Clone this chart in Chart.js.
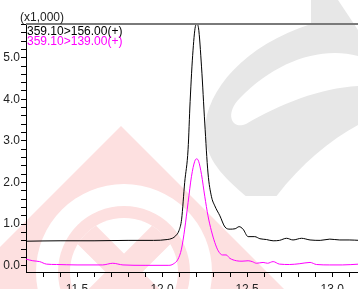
<!DOCTYPE html>
<html><head><meta charset="utf-8">
<script src="https://cdn.jsdelivr.net/npm/chart.js@4"></script>
<style>html,body{margin:0;padding:0;overflow:hidden;background:#fff}#wrap{width:358px;height:300px}</style>
</head><body><div id="wrap"><canvas id="c" width="358" height="300"></canvas></div>
<script>
// ---- data ----
const blackTimes  = [11.20,11.40,11.60,11.80,11.95,12.03,12.06,12.08,12.10,12.115,12.133,12.153,12.165,12.182,12.198,12.205,12.214,12.232,12.251,12.27,12.29,12.31,12.34,12.37,12.40,12.43,12.453,12.476,12.506,12.545,12.575,12.614,12.653,12.69,12.732,12.77,12.82,12.87,12.93,12.986,13.045,13.10,13.16];
const blackValues = [0.59,0.60,0.60,0.61,0.61,0.63,0.66,0.72,0.85,1.12,2.00,2.80,3.95,5.18,5.78,5.80,5.72,4.78,3.43,2.23,1.67,1.44,1.20,0.93,0.88,0.89,0.94,0.88,0.70,0.70,0.65,0.63,0.60,0.61,0.66,0.62,0.66,0.62,0.61,0.64,0.62,0.62,0.61];
const pinkTimes   = [11.20,11.24,11.28,11.32,11.38,11.50,11.65,11.71,11.77,11.90,12.04,12.065,12.094,12.114,12.133,12.153,12.173,12.192,12.203,12.215,12.232,12.251,12.27,12.29,12.31,12.33,12.355,12.377,12.398,12.437,12.47,12.506,12.53,12.555,12.594,12.62,12.653,12.69,12.75,12.81,12.87,12.908,12.986,13.06,13.16];
const pinkValues  = [0.16,0.12,0.10,0.04,0.03,0.02,0.02,0.06,0.02,0.01,0.01,0.04,0.16,0.40,0.88,1.52,2.15,2.51,2.57,2.51,2.19,1.67,1.20,0.84,0.56,0.36,0.26,0.26,0.18,0.12,0.11,0.12,0.10,0.06,0.08,0.06,0.10,0.04,0.03,0.05,0.08,0.03,0.02,0.02,0.04];
const xMajorLabels = ['11.5','12.0','12.5','13.0'];
const yMajorLabels = ['0.0','1.0','2.0','3.0','4.0','5.0'];
const legendTexts  = ['359.10>156.00(+)','359.10>139.00(+)'];
const legendColors = ['#000000','#ff00ff'];
const yUnitLabel   = '(x1,000)';

const FONT = 'Arial, "Liberation Sans", sans-serif';

function poly(ctx, pts){ ctx.moveTo(pts[0][0],pts[0][1]); for(let i=1;i<pts.length;i++) ctx.lineTo(pts[i][0],pts[i][1]); ctx.closePath(); }

const watermark = {
  id:'watermark',
  beforeDraw(chart){
    const ctx = chart.ctx;
    ctx.save();
    ctx.fillStyle = '#fff';
    ctx.fillRect(0,0,chart.width,chart.height);
    // grey S (background watermark)
    ctx.save();
    ctx.beginPath(); ctx.rect(0,0,358,196); ctx.clip();
    ctx.fillStyle = '#e7e7e7';
    ctx.beginPath();
    ctx.moveTo(311,0); ctx.lineTo(338,0); ctx.lineTo(358,30); ctx.lineTo(358,125);
    ctx.bezierCurveTo(330,140, 300,165, 275,198);
    ctx.lineTo(248,198);
    ctx.bezierCurveTo(225,178, 204,160, 205,130);
    ctx.bezierCurveTo(206,90, 245,45, 311,24);
    ctx.closePath();
    ctx.fill();
    // slot (counter)
    ctx.fillStyle = '#fff';
    ctx.beginPath();
    ctx.moveTo(358,56);
    ctx.bezierCurveTo(320,46, 275,62, 240,98);
    ctx.bezierCurveTo(224,114, 232,130, 246,124);
    ctx.bezierCurveTo(280,104, 320,88, 358,86);
    ctx.closePath();
    ctx.fill();
    ctx.restore();
    // pink diamond
    ctx.fillStyle = '#fde0e0';
    ctx.beginPath();
    poly(ctx, [[121,126],[421,426],[121,726],[-179,426]]);
    ctx.fill();
    const cx=124, cy=272;
    ctx.fillStyle = '#fff';
    ctx.beginPath();
    ctx.arc(cx,cy,88,0,Math.PI*2); ctx.arc(cx,cy,66,0,Math.PI*2,true);
    ctx.fill();
    ctx.save();
    ctx.beginPath(); ctx.arc(cx,cy,54,0,Math.PI*2); ctx.clip();
    ctx.fillStyle='#fff'; ctx.fillRect(cx-60,cy-60,120,120);
    ctx.fillStyle='#fde0e0';
    ctx.translate(cx,cy);
    ctx.rotate(Math.PI/4);
    ctx.fillRect(-70,-13,140,26);
    ctx.fillRect(-13,-70,26,140);
    ctx.restore();
    ctx.restore();
  },
  afterDraw(chart){
    const ctx = chart.ctx, a = chart.chartArea;
    ctx.save();
    ctx.strokeStyle = '#7a7a7a';
    ctx.lineWidth = 2;
    ctx.beginPath(); ctx.moveTo(a.left, a.top); ctx.lineTo(chart.width, a.top); ctx.stroke();
    ctx.font = '12px ' + FONT;
    ctx.textAlign = 'left';
    ctx.textBaseline = 'alphabetic';
    ctx.fillStyle = '#222';
    ctx.fillText(yUnitLabel, 20, 21);
    legendTexts.forEach((t,i)=>{ ctx.fillStyle = legendColors[i]; ctx.fillText(t, 27, 34.5 + i*10.5); });
    ctx.restore();
  }
};

function near(v, step){ return Math.abs(v/step - Math.round(v/step)) < 1e-6; }

new Chart(document.getElementById('c'), {
  type:'line',
  data:{ datasets:[
    { data: blackTimes.map((t,i)=>({x:t,y:blackValues[i]})), borderColor:'#000', borderWidth:1, pointRadius:0, cubicInterpolationMode:'monotone', fill:false },
    { data: pinkTimes.map((t,i)=>({x:t,y:pinkValues[i]})), borderColor:'#ff00ff', borderWidth:1, pointRadius:0, cubicInterpolationMode:'monotone', fill:false }
  ]},
  plugins:[watermark],
  options:{
    responsive:false, animation:false, devicePixelRatio:1,
    layout:{ padding:{ top:24, right:0, left:0, bottom:0 } },
    plugins:{ legend:{display:false}, tooltip:{enabled:false} },
    scales:{
      x:{ type:'linear', min:11.2, max:13.152,
        afterBuildTicks(s){ const t=[]; for(let k=112;k<=131;k++){ t.push({value:k/10}); } s.ticks=t.filter(o=>o.value>11.2 && o.value<13.152); },
        afterFit(s){ s.height = 28; },
        ticks:{ autoSkip:false, maxRotation:0, padding:5, color:'#222', font:{size:12, family:FONT},
          callback(v){ const lbl = v.toFixed(1); return (near(v,0.5) && xMajorLabels.includes(lbl)) ? lbl : ''; } },
        grid:{ drawOnChartArea:false, drawTicks:true, tickLength:5, color:'#000', lineWidth:1 },
        border:{ display:true, color:'#000', width:1 }
      },
      y:{ min:-0.15, max:5.81,
        afterBuildTicks(s){ const t=[]; for(let k=0;k<=29;k++){ t.push({value:k/5}); } s.ticks=t; },
        afterFit(s){ s.width = 26; },
        ticks:{ autoSkip:false, padding:1, color:'#222', font:{size:12, family:FONT},
          callback(v){ const lbl = v.toFixed(1); return (near(v,1) && yMajorLabels.includes(lbl)) ? lbl : ''; } },
        grid:{ drawOnChartArea:false, drawTicks:true, tickLength:5, color:'#000', lineWidth:1 },
        border:{ display:true, color:'#000', width:1 }
      }
    }
  }
});
</script></body></html>
